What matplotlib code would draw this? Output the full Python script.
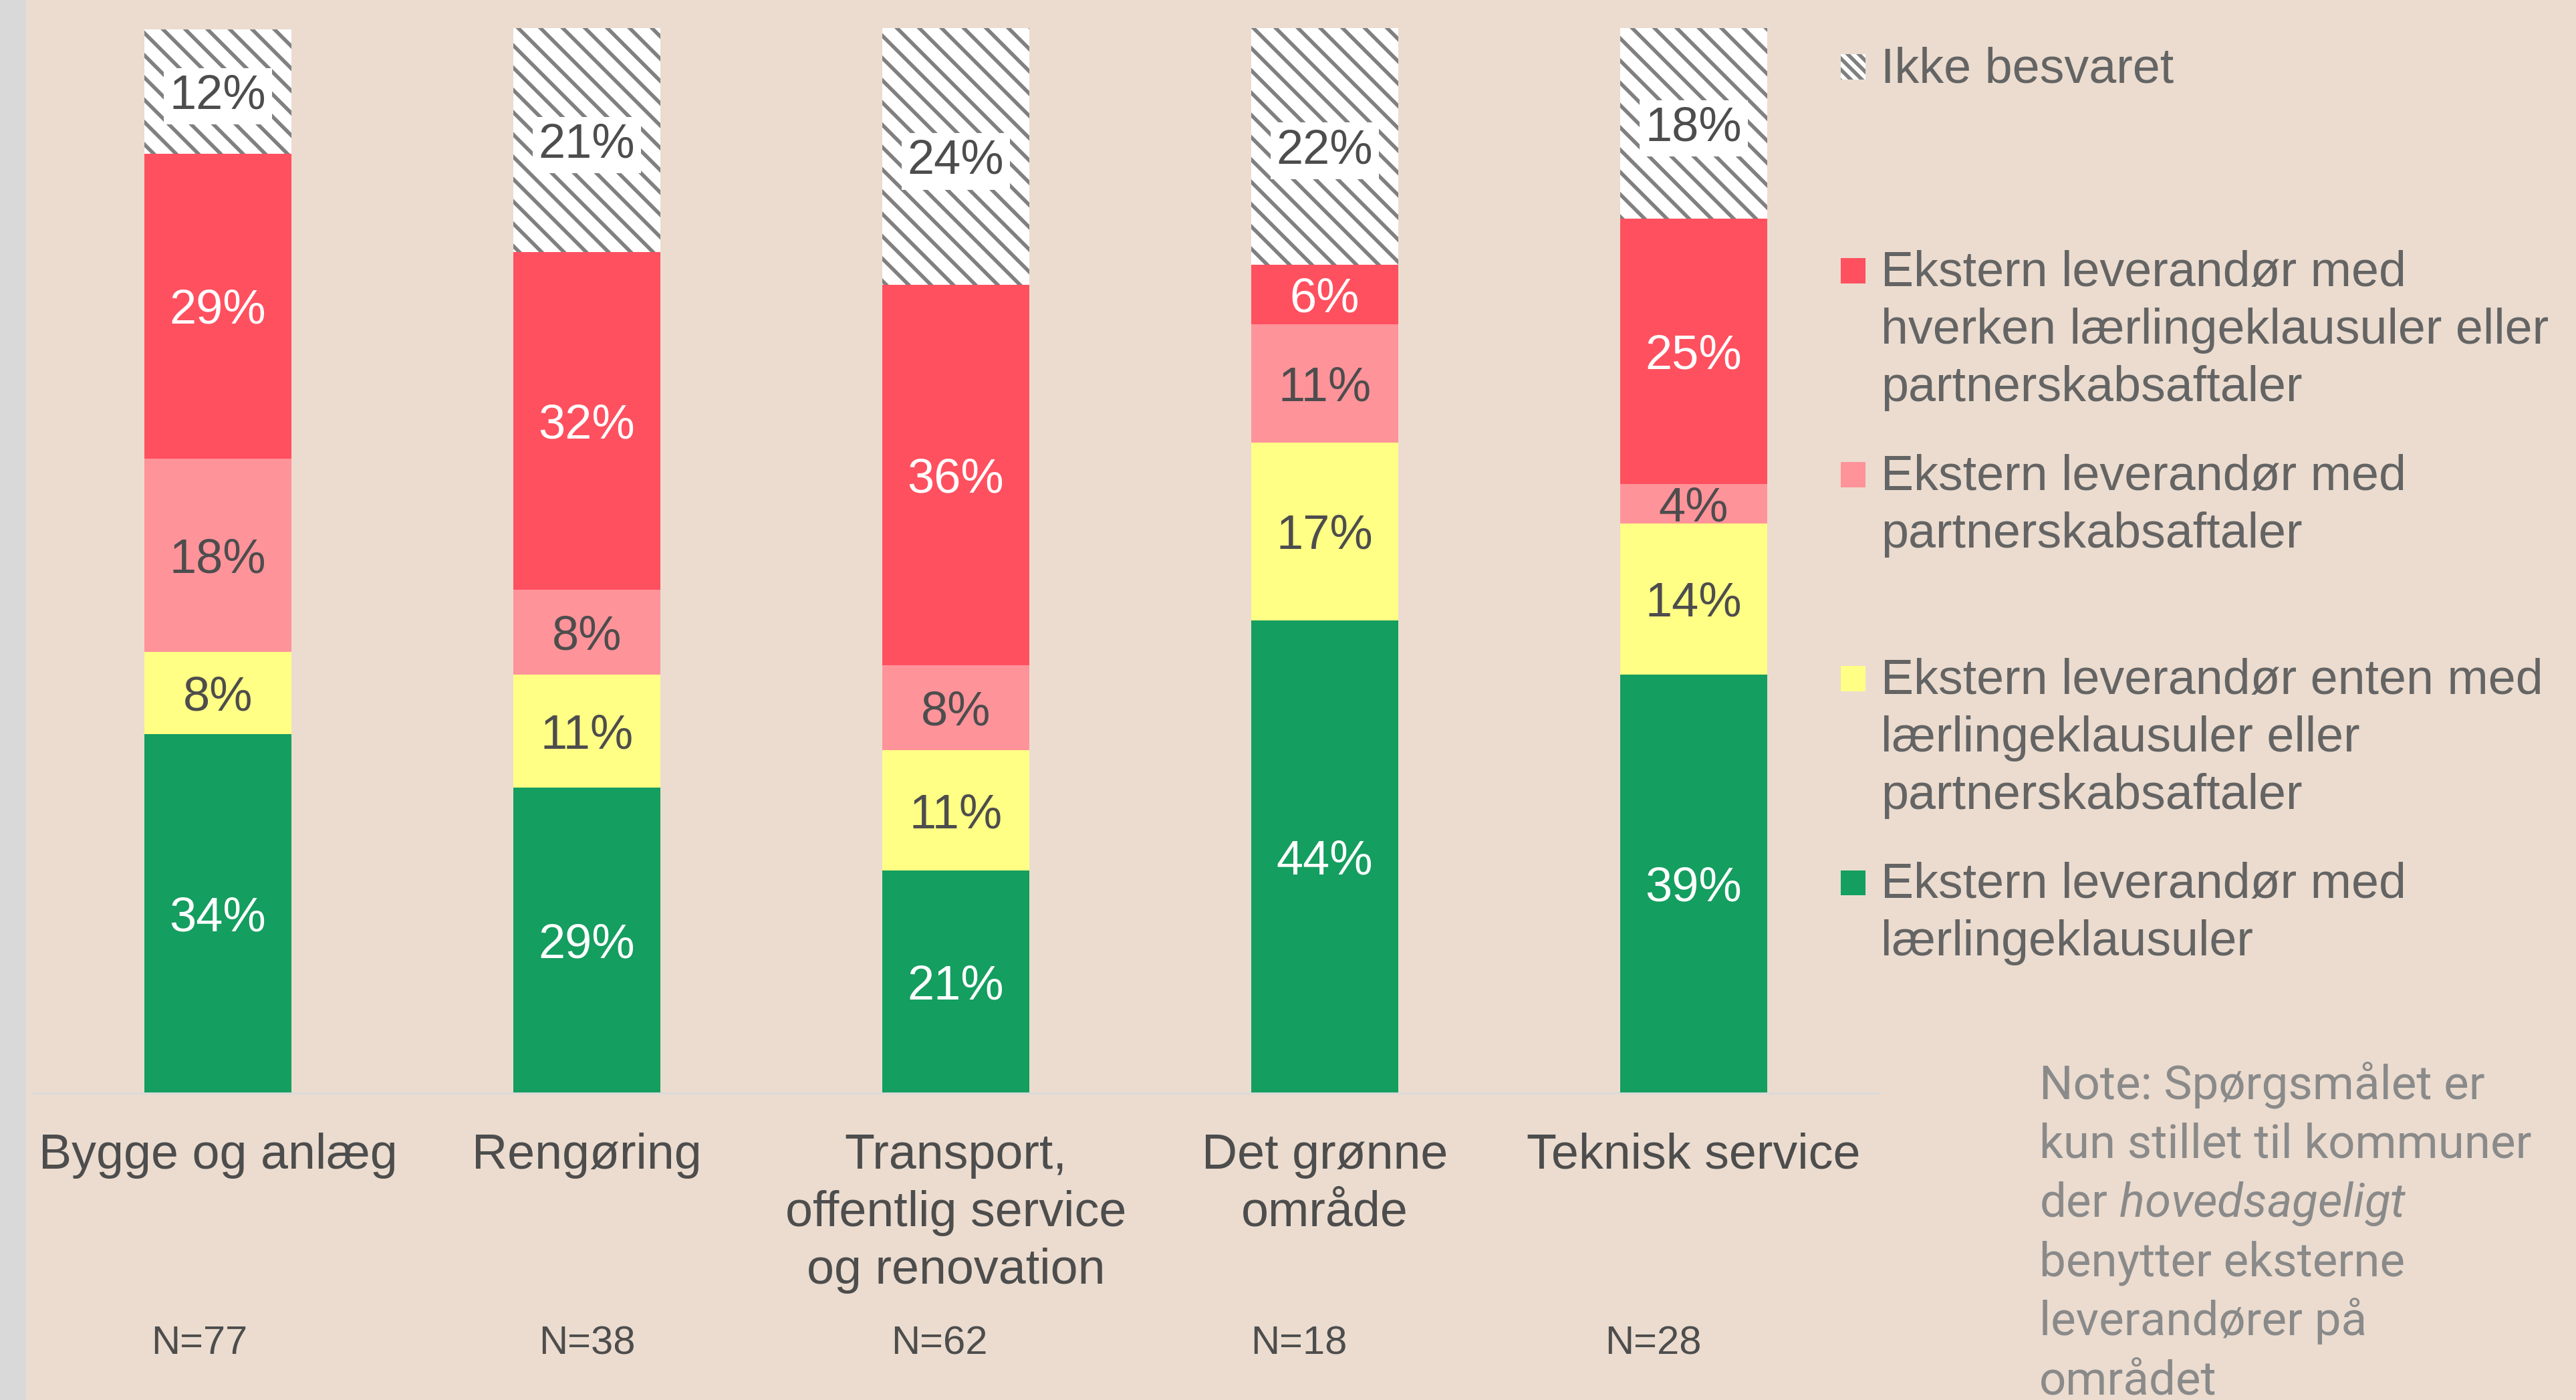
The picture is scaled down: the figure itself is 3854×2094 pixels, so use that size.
#stacked bars: external suppliers and apprentice clauses per area

import numpy as np
import matplotlib
matplotlib.use('Agg')
import matplotlib.pyplot as plt
from matplotlib.patches import Rectangle

plt.rcParams['font.family'] = ['Liberation Sans', 'DejaVu Sans']
plt.rcParams['hatch.linewidth'] = 4.0
plt.rcParams['mathtext.fontset'] = 'custom'
plt.rcParams['mathtext.it'] = 'Roboto:italic'
plt.rcParams['mathtext.rm'] = 'Roboto'

#categories
categories = ['Bygge og anlæg', 'Rengøring', 'Transport,\noffentlig service\nog renovation',
              'Det grønne\nområde', 'Teknisk service']
n_labels = ['N=77', 'N=38', 'N=62', 'N=18', 'N=28']

#shares in percent, bottom to top
laerling = [33.7, 28.7, 20.9, 44.4, 39.3]
enten = [7.7, 10.6, 11.3, 16.7, 14.2]
partner = [18.2, 8.0, 8.0, 11.1, 3.7]
hverken = [28.6, 31.7, 35.7, 5.6, 24.9]
ikke_besvaret = [11.7, 21.0, 24.1, 22.3, 17.9]

#legend labels, top to bottom
legend_labels = ['Ikke besvaret',
                 'Ekstern leverandør med\nhverken lærlingeklausuler eller\npartnerskabsaftaler',
                 'Ekstern leverandør med\npartnerskabsaftaler',
                 'Ekstern leverandør enten med\nlærlingeklausuler eller\npartnerskabsaftaler',
                 'Ekstern leverandør med\nlærlingeklausuler']

note_lines = ['Note: Spørgsmålet er', 'kun stillet til kommuner', r'der $\mathit{hovedsageligt}$',
              'benytter eksterne', 'leverandører på', 'området']

W, H = 3855, 2094
bg = '#EBDCCF'
dark = '#4D4D4D'
pitch = 86  # px between text lines

fig = plt.figure(figsize=(W / 100, H / 100), dpi=100)
fig.patch.set_facecolor(bg)
fig.add_artist(Rectangle((0, 0), 39 / W, 1, transform=fig.transFigure, color='#D9D9D9', lw=0))

ax = fig.add_axes([50 / W, 1 - 1635 / H, 2760 / W, 1593 / H])
ax.set_facecolor('none')

x = np.arange(len(categories))
series = [laerling, enten, partner, hverken, ikke_besvaret]
colors = ['#149E5F', '#FFFF85', '#FF939A', '#FF505F', 'white']
text_colors = ['white', dark, dark, 'white', dark]

bottom = np.zeros(len(categories))
for i, (vals, col, tcol) in enumerate(zip(series, colors, text_colors)):
    hatched = i == len(series) - 1
    bars = ax.bar(x, vals, 0.4, bottom=bottom, color=col, linewidth=0,
                  edgecolor='#808080' if hatched else col,
                  hatch='\\' if hatched else None)
    for rect, v in zip(bars, vals):
        box = dict(boxstyle='square,pad=0.12', fc='white', ec='none') if hatched else None
        ax.text(rect.get_x() + rect.get_width() / 2, rect.get_y() + rect.get_height() / 2,
                f'{round(v)}%', ha='center', va='center_baseline', fontsize=52,
                color=tcol, bbox=box)
    bottom += np.array(vals)

ax.set_xlim(-0.5, 4.5)
ax.set_ylim(0, 100)
ax.set_xticks([])
ax.set_yticks([])
for s in ['top', 'left', 'right']:
    ax.spines[s].set_visible(False)
ax.spines['bottom'].set_color('#DADADA')
ax.spines['bottom'].set_linewidth(2.2)

#category labels and N
trans = ax.get_xaxis_transform()
n_shift = [-0.05, 0.0, -0.045, -0.07, -0.11]
for xi, cat, n, sh in zip(x, categories, n_labels, n_shift):
    for k, line in enumerate(cat.split('\n')):
        ax.text(xi, -(1748 + pitch * k - 1635) / 1593, line, transform=trans, ha='center',
                va='baseline', fontsize=53, color=dark)
    ax.text(xi + sh, -(2025 - 1635) / 1593, n, transform=trans, ha='center', va='baseline',
            fontsize=43, color=dark)

#legend
legend_colors = ['white', '#FF505F', '#FF939A', '#FFFF85', '#149E5F']
legend_base = [123, 428, 733, 1038, 1343]
for lab, col, b in zip(legend_labels, legend_colors, legend_base):
    hatched = col == 'white'
    fig.add_artist(Rectangle((2754 / W, 1 - (b - 23 + 18.5) / H), 37 / W, 37 / H,
                             transform=fig.transFigure, facecolor=col, lw=0,
                             edgecolor='#808080' if hatched else col,
                             hatch='\\\\' if hatched else None))
    for k, line in enumerate(lab.split('\n')):
        fig.text(2814 / W, 1 - (b + pitch * k) / H, line, ha='left', va='baseline',
                 fontsize=53, color='#646464')

#note
for k, line in enumerate(note_lines):
    fig.text(3051 / W, 1 - (1643 + 88.5 * k) / H, line, ha='left', va='baseline',
             fontsize=51, color='#8A8A8A', family=['Roboto', 'DejaVu Sans'])

fig.savefig('out.png', dpi=100, facecolor=bg)
